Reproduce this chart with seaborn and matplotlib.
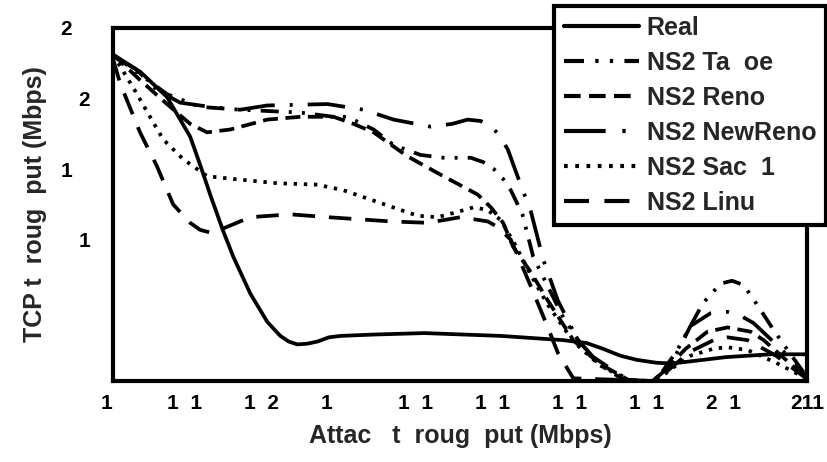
import pandas as pd
import seaborn as sns
import matplotlib.pyplot as plt

# tick labels as they appear in the picture; figure spaces stand for the glyphs
# that did not render in the original
FS = "\u2007"
PS = "\u2008"
x_ticks = [0, 1, 2, 3, 4, 5, 6, 7, 8, 9]
x_labels = ["1" + FS, "1" + FS + "1" + FS, "1" + FS + "2" + FS, "1" + FS * 3,
            "1" + FS + "1" + FS, "1" + FS + "1" + FS, "1" + FS + "1" + FS,
            "1" + FS + "1" + FS, "2" + FS + "1" + FS, "211"]
y_ticks = [0, 0.5, 1.0, 1.5, 2.0, 2.5]
y_labels = ["", "", "1", "1" + PS + FS, "2", "2" + PS + FS]

series_names = ["Real", "NS2 Ta  oe", "NS2 Reno", "NS2 NewReno", "NS2 Sac  1", "NS2 Linu"]

real_x = [0.00, 0.35, 0.70, 1.00, 1.13, 1.26, 1.43, 1.56, 1.78, 2.00, 2.17, 2.28, 2.39, 2.52,
          2.65, 2.80, 2.95, 3.40, 4.04, 5.03, 5.84, 6.14, 6.35, 6.58, 6.80, 7.05, 7.25, 7.49,
          7.95, 8.53, 9.00]
real_y = [2.30, 2.19, 2.01, 1.73, 1.53, 1.32, 1.06, 0.88, 0.62, 0.42, 0.32, 0.28, 0.26, 0.265,
          0.28, 0.31, 0.32, 0.33, 0.34, 0.32, 0.29, 0.27, 0.23, 0.18, 0.15, 0.13, 0.125, 0.14,
          0.17, 0.19, 0.19]

tahoe_x = [0.00, 0.35, 0.70, 1.13, 1.65, 2.04, 2.43, 2.86, 3.04, 3.38, 3.64, 3.99, 4.29, 4.64,
           4.80, 4.94, 5.06, 5.16, 5.31, 5.45, 5.64, 5.84, 6.06, 6.36, 6.62, 7.04, 7.32, 7.50,
           7.65, 7.88, 8.03, 8.18, 8.38, 8.57, 8.75, 8.96, 9.00]
tahoe_y = [2.31, 2.17, 2.03, 1.94, 1.92, 1.91, 1.90, 1.87, 1.87, 1.78, 1.67, 1.60, 1.58, 1.58,
           1.55, 1.50, 1.43, 1.35, 1.18, 0.88, 0.67, 0.45, 0.27, 0.10, 0.01, 0.00, 0.22, 0.40,
           0.55, 0.69, 0.71, 0.68, 0.52, 0.36, 0.22, 0.06, 0.02]

reno_x = [0.00, 0.35, 0.70, 1.00, 1.22, 1.52, 2.00, 2.43, 2.86, 3.12, 3.38, 3.82, 4.25, 4.73,
          4.90, 5.06, 5.19, 5.42, 5.64, 5.97, 6.29, 6.68, 7.00, 7.20, 7.43, 7.71, 7.97, 8.27,
          8.44, 8.73, 8.99]
reno_y = [2.31, 2.13, 1.96, 1.82, 1.76, 1.78, 1.85, 1.87, 1.87, 1.82, 1.76, 1.59, 1.46, 1.32,
          1.23, 1.12, 0.95, 0.77, 0.57, 0.29, 0.13, 0.01, 0.00, 0.10, 0.23, 0.35, 0.38, 0.35,
          0.29, 0.15, 0.02]

newreno_x = [0.00, 0.29, 0.57, 0.87, 1.26, 1.65, 2.00, 2.78, 3.25, 3.64, 4.12, 4.40, 4.60, 4.77,
             4.88, 4.96, 5.04, 5.12, 5.26, 5.42, 5.58, 5.77, 6.03, 6.23, 6.62, 6.84, 7.00,
             7.23, 7.49, 7.75, 7.97, 8.15, 8.31, 8.66, 8.92, 9.00]
newreno_y = [2.31, 2.21, 2.06, 1.97, 1.94, 1.92, 1.95, 1.96, 1.92, 1.85, 1.80, 1.82, 1.85, 1.84,
             1.81, 1.77, 1.71, 1.64, 1.43, 1.20, 0.86, 0.57, 0.29, 0.17, 0.03, 0.00, 0.00,
             0.11, 0.39, 0.48, 0.49, 0.46, 0.41, 0.23, 0.08, 0.03]

sack_x = [0.00, 0.09, 0.29, 0.48, 0.65, 0.91, 1.22, 1.56, 2.13, 2.65, 2.99, 3.47, 3.95, 4.21,
          4.42, 4.68, 4.86, 5.03, 5.22, 5.42, 5.64, 5.97, 6.32, 6.71, 7.04, 7.25, 7.49, 7.79,
          7.97, 8.23, 8.60, 8.99]
sack_y = [2.31, 2.23, 2.05, 1.87, 1.71, 1.57, 1.45, 1.43, 1.40, 1.39, 1.35, 1.26, 1.17, 1.16,
          1.19, 1.23, 1.21, 1.14, 0.96, 0.75, 0.54, 0.28, 0.11, 0.00, 0.00, 0.09, 0.18, 0.23,
          0.24, 0.22, 0.13, 0.02]

linux_x = [0.00, 0.09, 0.35, 0.57, 0.78, 1.00, 1.13, 1.27, 1.43, 1.78, 2.30, 2.78, 3.60, 4.08,
           4.51, 4.86, 4.99, 5.16, 5.42, 5.64, 5.77, 5.97, 7.04, 7.25, 7.49, 7.79, 7.97, 8.23,
           8.60, 8.99]
linux_y = [2.28, 2.11, 1.76, 1.52, 1.25, 1.12, 1.07, 1.05, 1.08, 1.16, 1.18, 1.16, 1.13, 1.12,
           1.16, 1.13, 1.09, 1.00, 0.67, 0.38, 0.20, 0.02, 0.00, 0.10, 0.21, 0.29, 0.31, 0.29,
           0.18, 0.02]

frames = []
for name, xs, ys in zip(series_names,
                        [real_x, tahoe_x, reno_x, newreno_x, sack_x, linux_x],
                        [real_y, tahoe_y, reno_y, newreno_y, sack_y, linux_y]):
    frames.append(pd.DataFrame({"x": xs, "y": ys, "series": name}))
df = pd.concat(frames, ignore_index=True)

dash_map = {
    "Real": "",
    "NS2 Ta  oe": (4.8, 2.7, 0.8, 2.7, 0.8, 2.7),
    "NS2 Reno": (4, 2),
    "NS2 NewReno": (10, 4, 0.8, 4),
    "NS2 Sac  1": (0.9, 1.8),
    "NS2 Linu": (6, 3.7),
}

sns.set_style("white")
plt.rcParams["font.family"] = ["Liberation Sans", "DejaVu Sans"]
plt.rcParams["font.weight"] = "bold"

fig = plt.figure(figsize=(8.28, 4.62), dpi=100)
ax = fig.add_axes([0.1365, 0.175, 0.838, 0.765])

sns.lineplot(data=df, x="x", y="y", hue="series", style="series",
             palette={n: "black" for n in series_names}, dashes=dash_map,
             hue_order=series_names, style_order=series_names,
             estimator=None, sort=False, linewidth=2.7, ax=ax)

ax.set_xlim(0, 9)
ax.set_ylim(0, 2.5)
ax.set_xticks(x_ticks)
ax.set_xticklabels(x_labels, fontsize=15, fontweight="bold")
ax.set_yticks(y_ticks)
ax.set_yticklabels(y_labels, fontsize=15, fontweight="bold")
ax.tick_params(direction="inout", length=9, width=2.5, colors="black")
ax.tick_params(axis="y", pad=12)
ax.tick_params(axis="x", pad=5)
for s in ax.spines.values():
    s.set_linewidth(3)
    s.set_color("black")

ax.set_xlabel("Attac   t  roug  put (Mbps)", fontsize=18, fontweight="bold", labelpad=8)
ax.set_ylabel("TCP t  roug  put (Mbps)", fontsize=18, fontweight="bold", labelpad=10)

handles, labels = ax.get_legend_handles_labels()
ax.legend_.remove()
leg = fig.legend(handles, labels, loc="upper right", bbox_to_anchor=(0.998, 0.988),
                 frameon=True, fancybox=False, framealpha=1, edgecolor="black",
                 prop={"size": 18, "weight": "bold"}, handlelength=3.0,
                 handletextpad=0.3, labelspacing=0.44, borderpad=0.4,
                 borderaxespad=0.0)
leg.get_frame().set_linewidth(3)
for line in leg.get_lines():
    line.set_linewidth(3)

fig.savefig("out.png", dpi=100)
